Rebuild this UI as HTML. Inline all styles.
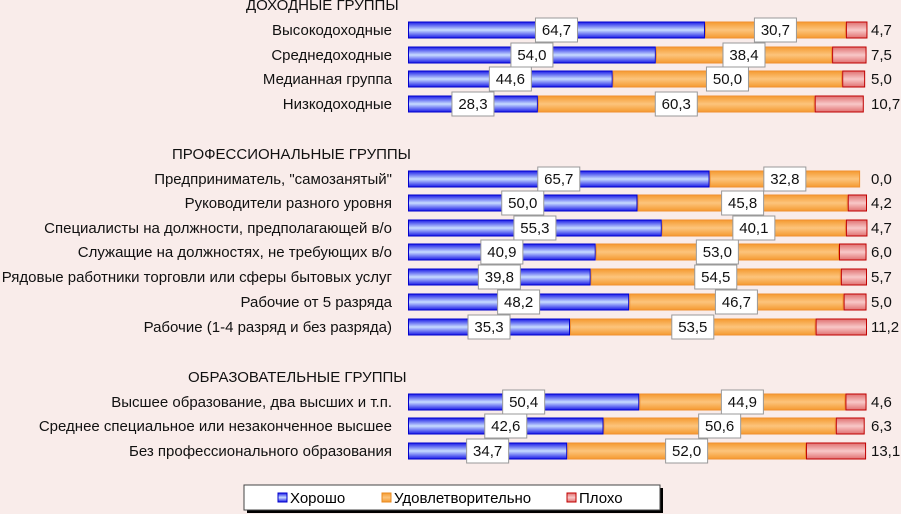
<!DOCTYPE html>
<html><head><meta charset="utf-8">
<style>
body{margin:0;background:#f9ecea;}
svg{display:block;font-family:"Liberation Sans","DejaVu Sans",sans-serif;}
</style></head>
<body>
<svg id="chart" width="901" height="514">
<defs>
<linearGradient id="gb" x1="0" y1="0" x2="0" y2="1"><stop offset="0" stop-color="#1a1ae8"/><stop offset="0.5" stop-color="#c8dcff"/><stop offset="1" stop-color="#1a1ae8"/></linearGradient>
<linearGradient id="go" x1="0" y1="0" x2="0" y2="1"><stop offset="0" stop-color="#f59a30"/><stop offset="0.5" stop-color="#fcc47c"/><stop offset="1" stop-color="#f59a30"/></linearGradient>
<linearGradient id="gr" x1="0" y1="0" x2="0" y2="1"><stop offset="0" stop-color="#e07070"/><stop offset="0.5" stop-color="#f8c8c8"/><stop offset="1" stop-color="#e07070"/></linearGradient>
</defs>
<g id="marks"></g>
<g>
<rect x="247" y="488" width="416" height="25" fill="#000"/>
<rect x="244" y="485" width="416" height="25" fill="#fff" stroke="#444"/>
<rect x="278" y="493" width="9" height="9" fill="url(#gb)" stroke="#0000cc"/>
<text x="290" y="503" font-size="15">Хорошо</text>
<rect x="382" y="493" width="9" height="9" fill="url(#go)" stroke="#e88a20"/>
<text x="394" y="503" font-size="15">Удовлетворительно</text>
<rect x="567" y="493" width="9" height="9" fill="url(#gr)" stroke="#c00000"/>
<text x="579" y="503" font-size="15">Плохо</text>
</g>
</svg>
<script>
const categories=["Высокодоходные","Среднедоходные","Медианная группа","Низкодоходные","Предприниматель, \"самозанятый\"","Руководители разного уровня","Специалисты на должности, предполагающей в/о","Служащие на должностях, не требующих в/о","Рядовые работники торговли или сферы бытовых услуг","Рабочие от 5 разряда","Рабочие (1-4 разряд и без разряда)","Высшее образование, два высших и т.п.","Среднее специальное или незаконченное высшее","Без профессионального образования"];
const good=[64.7,54.0,44.6,28.3,65.7,50.0,55.3,40.9,39.8,48.2,35.3,50.4,42.6,34.7];
const ok=[30.7,38.4,50.0,60.3,32.8,45.8,40.1,53.0,54.5,46.7,53.5,44.9,50.6,52.0];
const bad=[4.7,7.5,5.0,10.7,0.0,4.2,4.7,6.0,5.7,5.0,11.2,4.6,6.3,13.1];
const headers=["ДОХОДНЫЕ ГРУППЫ","ПРОФЕССИОНАЛЬНЫЕ ГРУППЫ","ОБРАЗОВАТЕЛЬНЫЕ ГРУППЫ"];
const headerRows=[0,4,11];
const headerX=[246,172,188];
const NS="http://www.w3.org/2000/svg";
const g=document.getElementById('marks');
const x0=408,W=459,bh=16;
function xs(v){return x0+v/100*W;}
const rowY=[30,55,79,104,179,203,228,252,277,302,327,402,426,451];
function rowCenter(i){return rowY[i];}
function mk(t,a){const e=document.createElementNS(NS,t);for(const k in a)e.setAttribute(k,a[k]);g.appendChild(e);return e;}
headers.forEach((h,j)=>{
 const t=mk('text',{x:headerX[j],y:rowCenter(headerRows[j])-20,'font-size':15,fill:'#111'});
 t.textContent=h;
 
 
});
categories.forEach((c,i)=>{
 const y=rowCenter(i);
 const t=mk('text',{x:392,y:y+5,'font-size':15,'text-anchor':'end',fill:'#111'});
 t.textContent=c;
 
 
 const segs=[[0,good[i],'url(#gb)','#0000cc'],[good[i],good[i]+ok[i],'url(#go)','#f09030'],[good[i]+ok[i],good[i]+ok[i]+bad[i],'url(#gr)','#c00000']];
 segs.forEach((s,k)=>{
  if(s[1]-s[0]<=0)return;
  const r=mk('rect',{x:xs(s[0])+0.5,y:y-bh/2,width:xs(s[1])-xs(s[0])-1,height:bh,fill:s[2],stroke:s[3],'stroke-width':1});
  
  
 });
 [[good[i],(xs(0)+xs(good[i]))/2],[ok[i],(xs(good[i])+xs(good[i]+ok[i]))/2]].forEach((p,k)=>{
  const b=mk('rect',{x:p[1]-21,y:y-12,width:42,height:24,fill:'#fff',stroke:'#999'});
  
  
  const tt=mk('text',{x:p[1],y:y+5,'font-size':15,'text-anchor':'middle',fill:'#111'});
  tt.textContent=p[0].toFixed(1).replace('.',',');
  
  
 });
 const rt=mk('text',{x:871,y:y+5,'font-size':15,fill:'#111'});
 rt.textContent=bad[i].toFixed(1).replace('.',',');
 
 
});
</script>
</body></html>
